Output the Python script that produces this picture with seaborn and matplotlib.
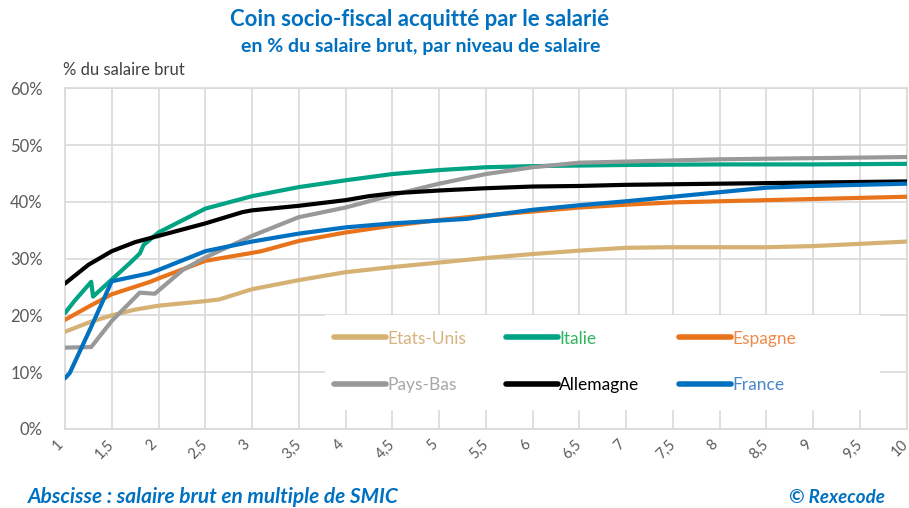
import pandas as pd
import matplotlib.pyplot as plt
import matplotlib.transforms as mtransforms
import seaborn as sns
from matplotlib.patches import Rectangle
from matplotlib.ticker import MultipleLocator, FuncFormatter

sns.set_style('white')
plt.rcParams['font.family'] = ['Lato', 'DejaVu Sans']

# données (% du salaire brut)
x_us = [1, 1.25, 1.5, 1.75, 2, 2.5, 2.65, 3, 3.5, 4, 4.5, 5, 5.5, 6, 6.5, 7, 7.5, 8, 8.5, 9, 9.5, 10]
y_us = [17.1, 18.7, 20.0, 21.0, 21.7, 22.5, 22.8, 24.6, 26.2, 27.6, 28.5, 29.3, 30.1, 30.8, 31.4, 31.9, 32.0, 32.0, 32.0, 32.2, 32.6, 33.0]

x_it = [1, 1.1, 1.2, 1.28, 1.30, 1.5, 1.7, 1.80, 1.84, 2, 2.5, 3, 3.5, 4, 4.5, 5, 5.5, 6, 6.5, 7, 8, 9, 10]
y_it = [20.4, 22.5, 24.4, 25.9, 23.3, 26.3, 29.3, 30.9, 32.4, 34.6, 38.8, 41.0, 42.6, 43.8, 44.9, 45.6, 46.1, 46.3, 46.4, 46.5, 46.6, 46.6, 46.7]

x_es = [1, 1.25, 1.5, 1.91, 2, 2.5, 3, 3.1, 3.5, 4, 4.5, 5, 5.5, 6, 6.5, 7, 7.5, 8, 8.5, 9, 9.5, 10]
y_es = [19.2, 21.5, 23.7, 25.9, 26.5, 29.6, 31.0, 31.3, 33.1, 34.6, 35.8, 36.8, 37.6, 38.3, 39.0, 39.5, 39.9, 40.1, 40.3, 40.5, 40.7, 40.9]

x_nl = [1, 1.28, 1.5, 1.8, 1.96, 2.26, 2.5, 3, 3.5, 4, 4.5, 5, 5.5, 6, 6.5, 7, 7.5, 8, 8.5, 9, 9.5, 10]
y_nl = [14.3, 14.4, 19.0, 24.0, 23.8, 28.0, 30.2, 34.0, 37.3, 39.0, 41.2, 43.2, 44.9, 46.1, 46.9, 47.1, 47.3, 47.5, 47.6, 47.7, 47.8, 47.9]

x_de = [1, 1.25, 1.5, 1.75, 2, 2.5, 2.9, 3, 3.5, 4, 4.25, 4.5, 5, 5.5, 6, 6.5, 7, 7.5, 8, 8.5, 9, 9.5, 10]
y_de = [25.6, 28.9, 31.3, 32.9, 34.0, 36.2, 38.2, 38.5, 39.3, 40.3, 41.0, 41.5, 42.0, 42.4, 42.7, 42.8, 43.0, 43.1, 43.2, 43.3, 43.4, 43.5, 43.6]

x_fr = [1, 1.05, 1.27, 1.5, 1.9, 2, 2.5, 3, 3.5, 4, 4.5, 5, 5.3, 5.5, 6, 6.5, 7, 7.5, 8, 8.5, 9, 9.5, 10]
y_fr = [8.9, 9.8, 17.6, 26.0, 27.4, 28.0, 31.3, 33.0, 34.4, 35.5, 36.2, 36.7, 37.0, 37.5, 38.6, 39.4, 40.1, 40.9, 41.7, 42.5, 42.8, 43.0, 43.2]

pays = ['Etats-Unis', 'Italie', 'Espagne', 'Pays-Bas', 'Allemagne', 'France']
series = [(x_us, y_us), (x_it, y_it), (x_es, y_es), (x_nl, y_nl), (x_de, y_de), (x_fr, y_fr)]
line_colors = ['#d6b174', '#00a383', '#e8731a', '#999999', '#000000', '#0070c0']
text_colors = ['#d8b27c', '#2fb55e', '#f08a4b', '#a6a6a6', '#000000', '#4a86c8']

rows = []
for nom, (xs, ys) in zip(pays, series):
    for xv, yv in zip(xs, ys):
        rows.append({'smic': xv, 'taux': yv, 'pays': nom})
df = pd.DataFrame(rows)

fig = plt.figure(figsize=(9.09, 5.08), dpi=100)
ax = fig.add_axes([0.0715, 0.156, 0.926, 0.670])

sns.lineplot(data=df, x='smic', y='taux', hue='pays', hue_order=pays,
             palette=dict(zip(pays, line_colors)), estimator=None, sort=False,
             linewidth=3, ax=ax, legend=True, zorder=3)

ax.set_xlim(1, 10)
ax.set_ylim(0, 60)
ax.xaxis.set_major_locator(MultipleLocator(0.5))
ax.yaxis.set_major_locator(MultipleLocator(10))
ax.xaxis.set_major_formatter(FuncFormatter(lambda v, p: f'{v:g}'.replace('.', ',')))
ax.yaxis.set_major_formatter(FuncFormatter(lambda v, p: f'{v:.0f}%'))
ax.set_axisbelow(True)
ax.grid(True, color='#d9d9d9', linewidth=1.2)
for s in ax.spines.values():
    s.set_color('#d9d9d9')
    s.set_linewidth(1.2)
ax.tick_params(axis='y', labelsize=12, labelcolor='#595959', length=0, pad=16)
ax.tick_params(axis='x', labelsize=10.5, labelcolor='#595959', length=0, pad=6)
decal = mtransforms.ScaledTranslation(-0.07, 0, fig.dpi_scale_trans)
for lab in ax.get_xticklabels():
    lab.set_rotation(45)
    lab.set_ha('center')
    lab.set_transform(lab.get_transform() + decal)
ax.set_xlabel('')
ax.set_ylabel('')

# fond blanc de la zone de légende (masque la grille)
ax.add_patch(Rectangle((0.309, 0.055), 0.659, 0.279, transform=ax.transAxes,
                       facecolor='white', edgecolor='none', zorder=2))

# légende : 2 lignes x 3 colonnes (remplissage par colonne)
handles, labels = ax.get_legend_handles_labels()
order = [0, 3, 1, 4, 2, 5]
leg = ax.legend([handles[i] for i in order], [labels[i] for i in order], ncol=3,
                loc='upper left', bbox_to_anchor=(0.291, 0.36), fontsize=12.5,
                handlelength=3.0, handletextpad=0.05, columnspacing=2.3, labelspacing=1.76,
                frameon=False, borderpad=0.9,
                labelcolor=[text_colors[i] for i in order])
for h in leg.get_lines():
    h.set_linewidth(4)
    h.set_solid_capstyle('round')

fig.text(0.462, 0.962, 'Coin socio-fiscal acquitté par le salarié', ha='center', va='center',
         fontsize=16, fontweight='bold', color='#0070c0')
fig.text(0.463, 0.908, 'en % du salaire brut, par niveau de salaire', ha='center', va='center',
         fontsize=14, fontweight='bold', color='#0070c0')
fig.text(0.069, 0.862, '% du salaire brut', ha='left', va='center', fontsize=12, color='#404040')
fig.text(0.031, 0.021, 'Abscisse : salaire brut en multiple de SMIC', ha='left', va='center',
         fontsize=15, fontweight='bold', fontstyle='italic', color='#0070c0')
fig.text(0.974, 0.021, '© Rexecode', ha='right', va='center',
         fontsize=13.5, fontweight='bold', fontstyle='italic', color='#0070c0')

plt.savefig('out.png', dpi=100)
plt.close()
